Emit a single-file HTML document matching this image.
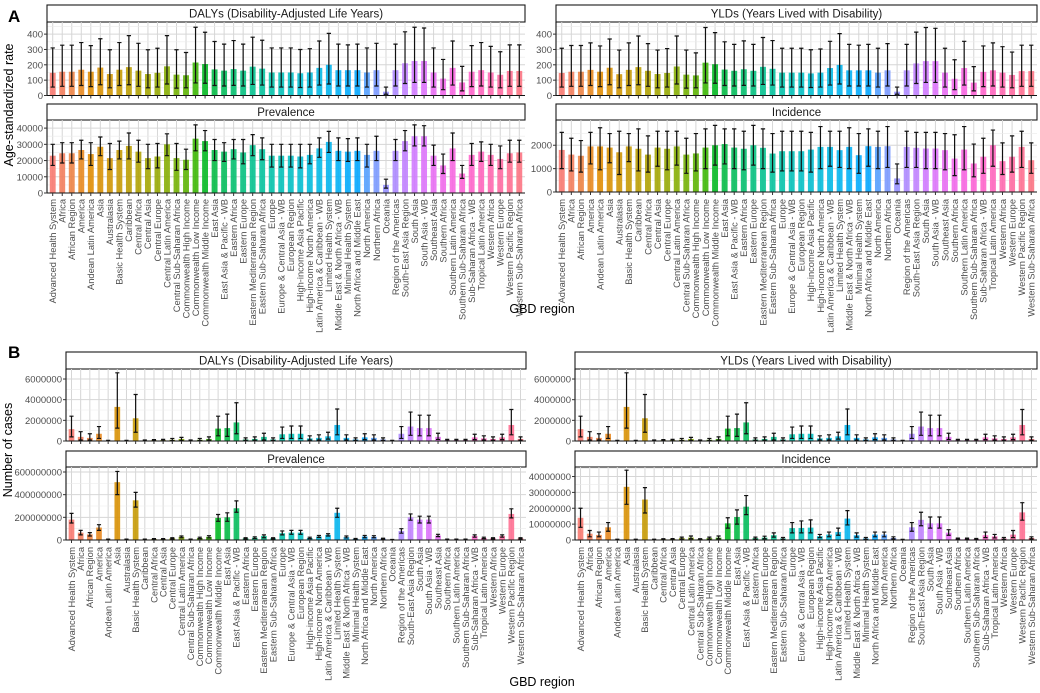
<!DOCTYPE html>
<html><head><meta charset="utf-8"><style>
html,body{margin:0;padding:0;background:#fff;}
svg{display:block;font-family:"Liberation Sans",Arial,sans-serif;}
</style></head><body>
<svg id="chart" width="1040" height="693" viewBox="0 0 1040 693" xmlns="http://www.w3.org/2000/svg"></svg>
<script>
const regions=["Advanced Health System","Africa","African Region","America","Andean Latin America","Asia","Australasia","Basic Health System","Caribbean","Central Africa","Central Asia","Central Europe","Central Latin America","Central Sub-Saharan Africa","Commonwealth High Income","Commonwealth Low Income","Commonwealth Middle Income","East Asia","East Asia & Pacific - WB","Eastern Africa","Eastern Europe","Eastern Mediterranean Region","Eastern Sub-Saharan Africa","Europe","Europe & Central Asia - WB","European Region","High-income Asia Pacific","High-income North America","Latin America & Caribbean - WB","Limited Health System","Middle East & North Africa - WB","Minimal Health System","North Africa and Middle East","North America","Northern Africa","Oceania","Region of the Americas","South-East Asia Region","South Asia","South Asia - WB","Southeast Asia","Southern Africa","Southern Latin America","Southern Sub-Saharan Africa","Sub-Saharan Africa - WB","Tropical Latin America","Western Africa","Western Europe","Western Pacific Region","Western Sub-Saharan Africa"];

// Panel A: age-standardized rates
const aDalyVal=[148,155,155,168,155,182,140,168,185,162,140,148,190,136,132,215,205,170,162,172,162,188,175,150,150,150,145,150,180,200,165,165,165,150,165,25,165,210,225,225,150,110,180,85,155,165,150,135,160,160];
const aDalyLo=[55,60,60,65,58,70,50,65,70,60,50,55,75,48,50,82,80,65,62,66,62,72,68,55,55,55,52,55,68,75,62,62,62,55,62,8,62,78,85,85,55,38,68,30,58,62,55,50,60,60];
const aDalyHi=[310,328,328,345,325,370,298,345,390,340,298,308,390,298,280,445,412,352,335,358,335,380,360,310,310,310,300,305,355,405,335,330,335,310,340,55,335,415,445,440,310,235,355,190,325,345,320,285,330,330];
const aYldVal=[147,155,155,167,155,181,139,167,185,161,140,147,189,136,131,214,204,169,161,171,161,187,174,149,149,149,144,149,179,199,164,164,164,149,164,25,164,209,224,224,149,109,179,84,154,164,149,134,159,159];
const aYldLo=[55,60,60,65,58,70,50,65,70,60,50,55,75,48,50,82,80,65,62,66,62,72,68,55,55,55,52,55,68,75,62,62,62,55,62,8,62,78,85,85,55,38,68,30,58,62,55,50,60,60];
const aYldHi=[308,326,326,343,323,368,296,343,388,338,296,306,388,296,278,443,410,350,333,356,333,378,358,308,308,308,298,303,353,403,333,328,333,308,338,55,333,413,443,438,308,233,353,188,323,343,318,283,328,328];
const aPrevVal=[23000,24500,24500,26500,24000,28500,21500,26500,29000,25500,21500,22500,30000,21500,20500,33500,32000,26500,25500,27000,25000,29500,27000,23000,23000,23000,22500,23500,27500,31500,26000,25500,26000,23500,26000,5000,26000,32000,35000,35000,23000,17000,27500,12000,23500,25500,23500,21000,24500,25000];
const aPrevLo=[17000,18500,18500,21000,17000,23000,14500,21000,21000,19000,15000,15500,23000,14000,14500,26000,26000,20000,19500,21000,18000,23000,20500,16000,16000,16000,15500,18000,22000,25000,20000,19500,20000,16000,20000,3000,20000,26000,29000,29000,17000,12000,20000,9000,17000,19500,17000,15000,19000,19000];
const aPrevHi=[30000,31000,31000,32500,31000,34500,30500,32000,37000,32500,30000,30500,36500,30500,27000,42000,38500,33000,31000,33000,33000,36000,34000,30000,30000,30000,30000,30000,34000,38000,34000,33500,34000,30000,35000,8500,33000,38500,42000,41500,29500,24000,37000,17000,30500,31500,30000,29000,32500,32500];
const aIncVal=[1800,1600,1550,1950,1950,1900,1700,1950,1850,1600,1900,1850,1950,1600,1650,1900,2000,2050,1900,1850,2000,1890,1645,1745,1745,1745,1815,1930,1930,1790,1930,1575,1960,1930,1960,580,1930,1890,1860,1860,1790,1430,1815,1220,1510,2000,1320,1510,1930,1360];
const aIncLo=[1000,900,850,1200,950,1250,750,1300,900,850,1100,950,1150,800,900,1000,1150,1200,1000,950,1150,1000,850,900,900,900,850,1000,1100,1050,1000,800,1100,1000,1050,350,1050,1050,1000,1000,950,700,950,650,800,1100,750,850,1050,800];
const aIncHi=[2550,2300,2200,2550,2750,2500,2600,2500,2700,2400,2600,2600,2600,2300,2500,2700,2850,2700,2700,2600,2850,2700,2500,2600,2600,2600,2550,2800,2600,2600,2750,2500,2700,2600,2800,1200,2600,2550,2550,2550,2500,2450,2800,2050,2300,2650,2100,2400,2600,2100];

// Panel B: number of cases
const bDalyVal=[1150000,400000,300000,700000,30000,3300000,30000,2200000,50000,70000,80000,120000,200000,50000,120000,200000,1200000,1250000,1800000,150000,200000,400000,150000,650000,700000,700000,250000,300000,450000,1550000,300000,150000,350000,300000,150000,30000,700000,1400000,1250000,1250000,400000,80000,80000,80000,350000,250000,200000,350000,1550000,200000];
const bDalyLo=[400000,100000,100000,250000,10000,1250000,10000,850000,20000,30000,30000,50000,50000,20000,50000,70000,500000,450000,700000,60000,70000,100000,60000,250000,250000,250000,100000,100000,180000,600000,100000,60000,130000,100000,60000,10000,250000,550000,500000,500000,150000,30000,30000,30000,130000,100000,80000,130000,600000,80000];
const bDalyHi=[2400000,900000,700000,1400000,60000,6600000,60000,4500000,100000,140000,160000,250000,350000,100000,250000,400000,2400000,2600000,3700000,300000,400000,750000,300000,1350000,1450000,1450000,500000,600000,850000,3100000,600000,300000,700000,600000,300000,60000,1400000,2800000,2500000,2500000,750000,160000,160000,160000,650000,500000,400000,650000,3050000,400000];
const bYldVal=[1150000,400000,300000,700000,30000,3300000,30000,2200000,50000,70000,80000,120000,200000,50000,120000,200000,1200000,1250000,1800000,150000,200000,400000,150000,650000,700000,700000,250000,300000,450000,1550000,300000,150000,350000,300000,150000,30000,700000,1400000,1250000,1250000,400000,80000,80000,80000,350000,250000,200000,350000,1550000,200000];
const bYldLo=[400000,100000,100000,250000,10000,1250000,10000,850000,20000,30000,30000,50000,50000,20000,50000,70000,500000,450000,700000,60000,70000,100000,60000,250000,250000,250000,100000,100000,180000,600000,100000,60000,130000,100000,60000,10000,250000,550000,500000,500000,150000,30000,30000,30000,130000,100000,80000,130000,600000,80000];
const bYldHi=[2400000,900000,700000,1400000,60000,6600000,60000,4500000,100000,140000,160000,250000,350000,100000,250000,400000,2400000,2600000,3700000,300000,400000,750000,300000,1350000,1450000,1450000,500000,600000,850000,3100000,600000,300000,700000,600000,300000,60000,1400000,2800000,2500000,2500000,750000,160000,160000,160000,650000,500000,400000,650000,3050000,400000];
const bPrevVal=[180e6,65e6,50e6,110e6,5e6,510e6,5e6,350e6,5e6,8e6,8e6,15e6,28e6,5e6,18e6,28e6,195e6,200e6,280e6,15e6,20e6,35e6,15e6,60e6,65e6,65e6,18e6,30e6,45e6,240e6,25e6,10e6,30e6,28e6,12e6,3e6,80e6,200e6,180e6,180e6,40e6,5e6,5e6,5e6,35e6,18e6,15e6,35e6,230e6,15e6];
const bPrevLo=[150e6,45e6,35e6,85e6,3e6,400e6,3e6,290e6,3e6,5e6,5e6,10e6,20e6,3e6,12e6,18e6,165e6,165e6,245e6,10e6,14e6,20e6,10e6,45e6,50e6,50e6,12e6,22e6,35e6,200e6,18e6,6e6,20e6,20e6,8e6,1e6,60e6,175e6,150e6,150e6,30e6,3e6,3e6,3e6,25e6,12e6,10e6,25e6,195e6,10e6];
const bPrevHi=[235e6,85e6,65e6,135e6,8e6,605e6,8e6,420e6,8e6,12e6,12e6,20e6,35e6,8e6,25e6,38e6,225e6,240e6,345e6,20e6,28e6,45e6,20e6,80e6,85e6,85e6,25e6,40e6,55e6,280e6,35e6,14e6,40e6,38e6,16e6,5e6,100e6,230e6,210e6,210e6,50e6,8e6,8e6,8e6,45e6,25e6,20e6,45e6,275e6,20e6];
const bIncVal=[14e6,4e6,3.2e6,8e6,0.3e6,33.5e6,0.3e6,25.5e6,0.3e6,0.5e6,0.6e6,1.2e6,1.5e6,0.5e6,1.2e6,1.5e6,10.5e6,14.5e6,21e6,1.2e6,1.5e6,3e6,1e6,7.5e6,7.6e6,7.8e6,2.4e6,3.4e6,5e6,13.5e6,3e6,1e6,3.4e6,3.4e6,1.3e6,0.2e6,8e6,12.7e6,10.5e6,10.5e6,4.6e6,0.8e6,0.8e6,0.6e6,3e6,2.3e6,1e6,3.4e6,17.4e6,1.3e6];
const bIncLo=[8e6,2e6,2e6,5.5e6,0.1e6,22.5e6,0.1e6,17e6,0.1e6,0.3e6,0.3e6,0.6e6,0.8e6,0.3e6,0.6e6,0.8e6,7.5e6,10e6,16e6,0.6e6,0.8e6,1.8e6,0.5e6,4.5e6,4.5e6,4.5e6,1.5e6,2e6,3e6,9.5e6,1.8e6,0.5e6,2e6,2e6,0.7e6,0.1e6,5.5e6,9e6,7.5e6,7.5e6,3e6,0.4e6,0.4e6,0.3e6,1.5e6,1.3e6,0.5e6,1.5e6,12.5e6,0.7e6];
const bIncHi=[20e6,6e6,5e6,11e6,0.5e6,44e6,0.5e6,33e6,0.5e6,0.8e6,0.9e6,1.8e6,2.5e6,0.8e6,1.8e6,2.5e6,14e6,19e6,28e6,1.8e6,2.4e6,4.5e6,1.6e6,11e6,12e6,12.7e6,3.5e6,5e6,7.5e6,18.5e6,4.5e6,1.6e6,5e6,5e6,2e6,0.4e6,11e6,17.5e6,14.5e6,14.5e6,6.5e6,1.2e6,1.2e6,1e6,5e6,3.5e6,1.6e6,6e6,23.5e6,2e6];

const aDalyTicks=[0,100,200,300,400];
const aPrevTicks=[0,10000,20000,30000,40000];
const aIncTicks=[0,1000,2000];
const bDalyTicks=[0,2000000,4000000,6000000];
const bPrevTicks=[0,200000000,400000000,600000000];
const bIncTicks=[0,10000000,20000000,30000000,40000000];

const NS="http://www.w3.org/2000/svg";
const svg=document.getElementById('chart');
function el(tag,attrs,parent){const e=document.createElementNS(NS,tag);for(const k in attrs)e.setAttribute(k,attrs[k]);(parent||svg).appendChild(e);return e;}

function hcl(h,c,l){
  const hr=h*Math.PI/180,u=c*Math.cos(hr),v=c*Math.sin(hr);
  const Xn=95.047,Yn=100,Zn=108.883;
  const un=4*Xn/(Xn+15*Yn+3*Zn),vn=9*Yn/(Xn+15*Yn+3*Zn);
  const Y=l>8?Yn*Math.pow((l+16)/116,3):Yn*l/903.3;
  const up=u/(13*l)+un,vp=v/(13*l)+vn;
  const X=Y*9*up/(4*vp),Z=Y*(12-3*up-20*vp)/(4*vp);
  const x=X/100,y=Y/100,z=Z/100;
  let r=3.2406*x-1.5372*y-0.4986*z,g=-0.9689*x+1.8758*y+0.0415*z,b=0.0557*x-0.2040*y+1.0570*z;
  const gm=t=>{t=t<=0.0031308?12.92*t:1.055*Math.pow(t,1/2.4)-0.055;return Math.round(Math.max(0,Math.min(1,t))*255);};
  return `rgb(${gm(r)},${gm(g)},${gm(b)})`;
}
const n=regions.length;
const colors=regions.map((_,i)=>hcl(15+360*i/n,100,65));

function panel(name,title,x0,x1,sy0,sy1,py1,ymax,ticks,vals,lo,hi,showLabels,labelY){
  const g=el('g',{});
  
  
  const py0=sy1;
  const step=(x1-x0)/(n-1+1.2);
  const xs=i=>x0+step*(0.6+i);
  const ys=v=>py1-(v/ymax)*(py1-py0);
  const s=el('rect',{x:x0,y:sy0,width:x1-x0,height:sy1-sy0,fill:'#fff',stroke:'#1a1a1a','stroke-width':1.1},g);
  
  
  const st=el('text',{x:(x0+x1)/2,y:(sy0+sy1)/2+4,'text-anchor':'middle','font-size':11.5,fill:'#1a1a1a'},g);
  st.textContent=title;
  
  
  for(let i=0;i<n;i++){el('line',{x1:xs(i),x2:xs(i),y1:py0,y2:py1,stroke:'#d6d6d6','stroke-width':1},g);}
  const minor=[];
  for(let k=0;k<ticks.length;k++){
    const v=ticks[k];
    el('line',{x1:x0,x2:x1,y1:ys(v),y2:ys(v),stroke:'#d6d6d6','stroke-width':1},g);
    if(k<ticks.length-1) minor.push((ticks[k]+ticks[k+1])/2);
  }
  const dt=ticks[1]-ticks[0];
  if(ticks[ticks.length-1]+dt/2<ymax) minor.push(ticks[ticks.length-1]+dt/2);
  minor.forEach(v=>el('line',{x1:x0,x2:x1,y1:ys(v),y2:ys(v),stroke:'#ebebeb','stroke-width':0.6},g));
  const bw=step*0.62, ew=step*0.45;
  for(let i=0;i<n;i++){
    const r=el('rect',{x:xs(i)-bw/2,y:ys(vals[i]),width:bw,height:py1-ys(vals[i]),fill:colors[i],'fill-opacity':0.88},g);
    
    
    const eb=el('path',{d:`M${xs(i)-ew/2},${ys(hi[i])}H${xs(i)+ew/2}M${xs(i)},${ys(hi[i])}V${ys(lo[i])}M${xs(i)-ew/2},${ys(lo[i])}H${xs(i)+ew/2}`,stroke:'#111',fill:'none','stroke-width':1.2},g);
    
    
  }
  el('line',{x1:x0,x2:x0,y1:py0,y2:py1,stroke:'#111','stroke-width':1.1},g);
  el('line',{x1:x0,x2:x1,y1:py1,y2:py1,stroke:'#111','stroke-width':1.1},g);
  ticks.forEach(v=>{
    el('line',{x1:x0-3,x2:x0,y1:ys(v),y2:ys(v),stroke:'#333'},g);
    const t=el('text',{x:x0-4,y:ys(v)+3.5,'text-anchor':'end','font-size':9.5,fill:'#4d4d4d'},g);
    t.textContent=String(v);
    
    
  });
  for(let i=0;i<n;i++){
    el('line',{x1:xs(i),x2:xs(i),y1:py1,y2:py1+3,stroke:'#333'},g);
    if(showLabels){
      const t=el('text',{transform:`translate(${xs(i)+3.3},${labelY}) rotate(-90)`,'text-anchor':'end','font-size':9.3,fill:'#4d4d4d'},g);
      t.textContent=regions[i];
      
      
    }
  }
}

panel('a-dalys','DALYs (Disability-Adjusted Life Years)',47,525,5,22,95.5,479,aDalyTicks,aDalyVal,aDalyLo,aDalyHi,false,0);
panel('a-ylds','YLDs (Years Lived with Disability)',556,1037,5,22,95.5,479,aDalyTicks,aYldVal,aYldLo,aYldHi,false,0);
panel('a-prevalence','Prevalence',47,525,104,120,193,45000,aPrevTicks,aPrevVal,aPrevLo,aPrevHi,true,199);
panel('a-incidence','Incidence',556,1037,104,120,192,3080,aIncTicks,aIncVal,aIncLo,aIncHi,true,199);
panel('b-dalys','DALYs (Disability-Adjusted Life Years)',66,526,352,369,441,6970000,bDalyTicks,bDalyVal,bDalyLo,bDalyHi,false,0);
panel('b-ylds','YLDs (Years Lived with Disability)',575,1037,352,369,441,6970000,bDalyTicks,bYldVal,bYldLo,bYldHi,false,0);
panel('b-prevalence','Prevalence',66,526,451,467,540,644000000,bPrevTicks,bPrevVal,bPrevLo,bPrevHi,true,547);
panel('b-incidence','Incidence',575,1037,451,467,540,46000000,bIncTicks,bIncVal,bIncLo,bIncHi,true,547);

function txt(name,s,attrs){const t=el('text',attrs);t.textContent=s;return t;}
txt('panel-a-label','A',{x:8,y:22,'font-size':17,'font-weight':'bold',fill:'#000'});
txt('panel-b-label','B',{x:8,y:358,'font-size':17,'font-weight':'bold',fill:'#000'});
txt('a-y-axis-title','Age-standardized rate',{transform:'translate(13,105) rotate(-90)','text-anchor':'middle','font-size':12.5,fill:'#000'});
txt('b-y-axis-title','Number of cases',{transform:'translate(12,450) rotate(-90)','text-anchor':'middle','font-size':12.5,fill:'#000'});
txt('a-x-axis-title','GBD region',{x:542,y:313,'text-anchor':'middle','font-size':12.5,fill:'#000'});
txt('b-x-axis-title','GBD region',{x:542,y:686,'text-anchor':'middle','font-size':12.5,fill:'#000'});
</script>
</body></html>
